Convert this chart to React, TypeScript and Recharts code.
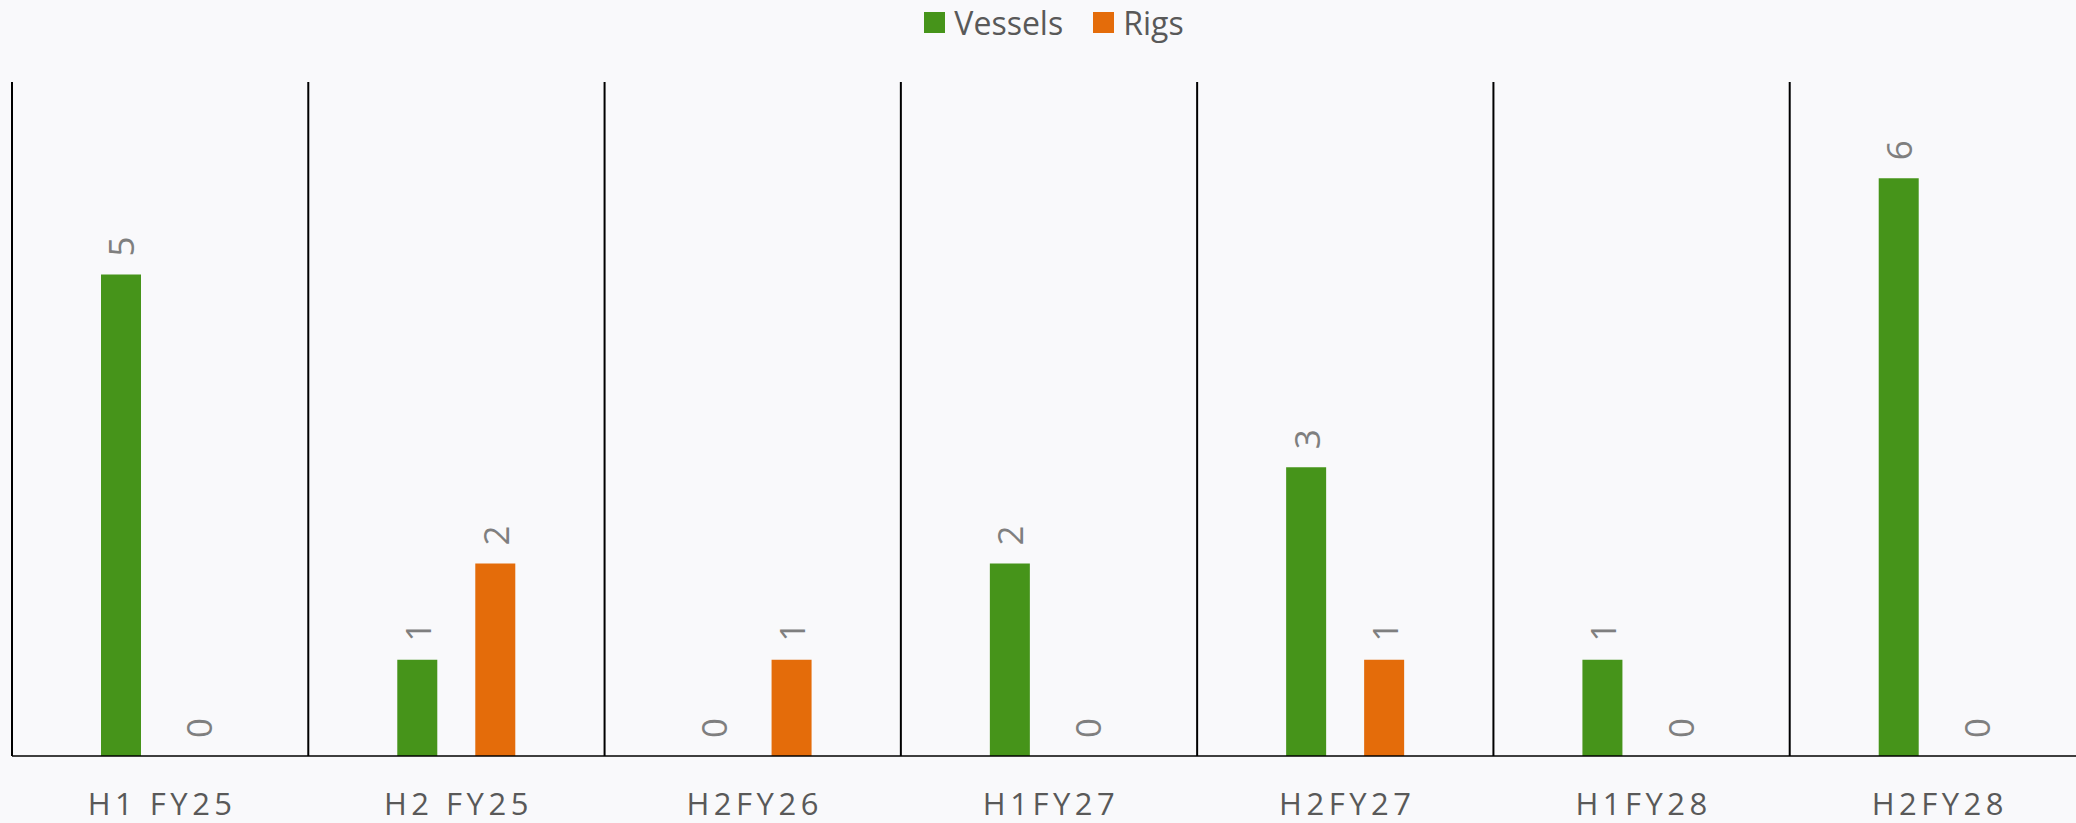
import React from 'react';
import { BarChart, Bar, XAxis, YAxis, CartesianGrid, Legend, LabelList } from 'recharts';

const categories = ['H1 FY25', 'H2 FY25', 'H2FY26', 'H1FY27', 'H2FY27', 'H1FY28', 'H2FY28'];
const vessels = [5, 1, 0, 2, 3, 1, 6];
const rigs = [0, 2, 1, 0, 1, 0, 0];

const data = categories.map((c, i) => ({ name: c, Vessels: vessels[i], Rigs: rigs[i] }));

const GREEN = '#46941A';
const ORANGE = '#E46C0A';
const FONT = '"Open Sans", "Noto Sans", sans-serif';

const RotLabel = (props: any) => {
  const { x, y, width, value } = props;
  const cx = x + width / 2;
  const ly = y - 18;
  return (
    <text
      x={cx}
      y={ly}
      transform={`rotate(-90, ${cx}, ${ly})`}
      textAnchor="start"
      dominantBaseline="central"
      fill="#7F7F7F"
      fontSize={35}
      fontFamily={FONT}
    >
      {value}
    </text>
  );
};

const Tick = (props: any) => {
  const { x, y, payload } = props;
  return (
    <text x={x + 2} y={y + 59} textAnchor="middle" fill="#595959" fontSize={31} fontFamily={FONT} letterSpacing={4.5}>
      {payload.value}
    </text>
  );
};

const LegendContent = () => (
  <div style={{ display: 'flex', justifyContent: 'center', alignItems: 'center', fontFamily: FONT, fontSize: 32, color: '#595959', height: 44, paddingLeft: 10 }}>
    {[{ n: 'Vessels', c: GREEN }, { n: 'Rigs', c: ORANGE }].map((it, i) => (
      <div key={it.n} style={{ display: 'flex', alignItems: 'center', marginLeft: i ? 30 : 0 }}>
        <div style={{ width: 21, height: 21, background: it.c, marginRight: 9 }} />
        <span>{it.n}</span>
      </div>
    ))}
  </div>
);

export default function App() {
  return (
    <div style={{ position: 'fixed', left: 0, top: 0, width: 2076, height: 823, overflow: 'hidden', background: '#F9F9FB' }}>
      <BarChart
        width={2100}
        height={823}
        data={data}
        margin={{ top: 38, right: 14, left: 12, bottom: 0 }}
        barSize={40}
        barGap={38}
      >
        <CartesianGrid
          horizontal={false}
          stroke="#000"
          strokeWidth={2}
          verticalCoordinatesGenerator={({ offset }: any) =>
            Array.from({ length: categories.length + 1 }, (_, i) => offset.left + (i * offset.width) / categories.length)
          }
        />
        <XAxis dataKey="name" height={67} axisLine={{ stroke: '#000', strokeWidth: 1.5 }} tickLine={false} tickSize={0} tickMargin={0} tick={<Tick />} interval={0} />
        <YAxis hide domain={[0, 7]} />
        <Legend verticalAlign="top" content={<LegendContent />} wrapperStyle={{ top: 0 }} />
        <Bar dataKey="Vessels" fill={GREEN} isAnimationActive={false} minPointSize={0.01}>
          <LabelList dataKey="Vessels" content={<RotLabel />} />
        </Bar>
        <Bar dataKey="Rigs" fill={ORANGE} isAnimationActive={false} minPointSize={0.01}>
          <LabelList dataKey="Rigs" content={<RotLabel />} />
        </Bar>
      </BarChart>
    </div>
  );
}
